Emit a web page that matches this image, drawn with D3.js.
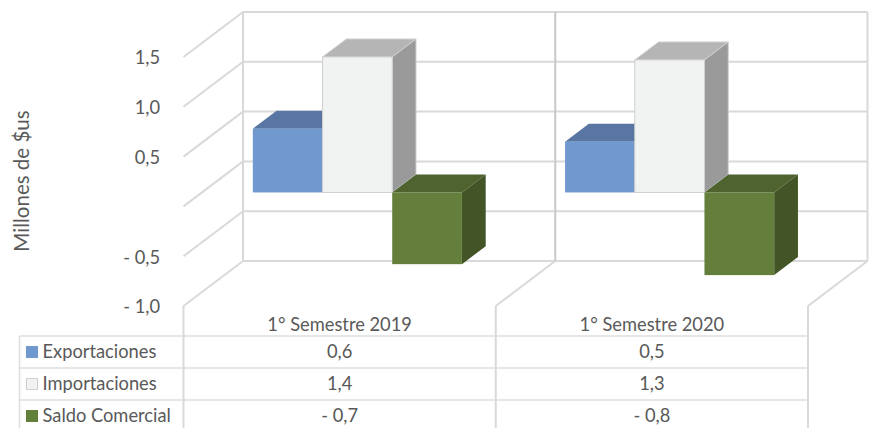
<!DOCTYPE html>
<html>
<head>
<meta charset="utf-8">
<script src="https://cdn.jsdelivr.net/npm/d3@7"></script>
<style>
  html, body { margin: 0; padding: 0; background: #fff; }
  svg { display: block; }
  text { font-family: Lato, "Open Sans", sans-serif; fill: #595959; }
</style>
</head>
<body>
<div id="chart"></div>
<script>
const categories = ['1° Semestre 2019', '1° Semestre 2020'];
const seriesNames = ['Exportaciones', 'Importaciones', 'Saldo Comercial'];
const exportaciones = [0.64, 0.51];
const importaciones = [1.36, 1.33];
const saldoComercial = [-0.72, -0.83];
const tickValues = [1.5, 1, 0.5, -0.5, -1];
const gridValues = [1.5, 1, 0.5, 0, -0.5, -1];

const seriesValues = [exportaciones, importaciones, saldoComercial];
const seriesColors = [
    { front: '#7198cf', top: '#5876a1', side: '#4f6b92', stroke: 'none' },
    { front: '#f1f3f3', top: '#b5b5b5', side: '#9a9a9a', stroke: '#d0d0d0' },
    { front: '#637f3b', top: '#4f632f', side: '#435427', stroke: 'none' }
];

const width = 873, height = 428;
const fontSize = 18.3;
const svg = d3.select('#chart').append('svg').attr('width', width).attr('height', height);

const x = d3.scaleBand().domain(categories).range([183.5, 808]);
const xSeries = d3.scaleBand().domain(seriesNames).range([-0.7, x.bandwidth() - 0.7]).paddingInner(0).paddingOuter(0.74);
const y = d3.scaleLinear().domain([-1, 1.5]).range([306, 57]);

// fake 3d: z goes from front of floor (0) to back wall (1)
const depthX = 59.5, depthY = 45;
const px = (xVal, z) => xVal + z * depthX;
const py = (yVal, z) => yVal - z * depthY;
const barZ = 0.31, barDepth = 0.4;

const lineColor = '#d9d9d9';
function line(g, x1, y1, x2, y2, color, w) {
    g.append('line').attr('x1', x1).attr('y1', y1).attr('x2', x2).attr('y2', y2)
        .attr('stroke', color || lineColor).attr('stroke-width', w || 2);
}

const left = x.range()[0], right = x.range()[1];
const walls = [left, left + x.step(), right];

// back wall and side grid
const grid = svg.append('g');
gridValues.forEach(v => {
    line(grid, px(left, 1), py(y(v), 1), px(right, 1), py(y(v), 1));
    line(grid, px(left, 0), py(y(v), 0), px(left, 1), py(y(v), 1));
});
walls.forEach((w, i) => {
    line(grid, px(w, 1), py(y(1.5), 1), px(w, 1), py(y(-1), 1), i == 1 ? '#c8c8c8' : lineColor);
    if (i > 0) line(grid, px(w, 0), py(y(-1), 0), px(w, 1), py(y(-1), 1));
});

// bars
const bars = svg.append('g');
categories.forEach((cat, c) => {
    seriesNames.forEach((name, s) => {
        const v = seriesValues[s][c];
        const col = seriesColors[s];
        const x0 = px(x(cat) + xSeries(name), barZ);
        const x1 = x0 + xSeries.bandwidth();
        const yBase = py(y(0), barZ);
        const yVal = py(y(v), barZ);
        const yTop = Math.min(yBase, yVal), yBot = Math.max(yBase, yVal);
        const dx = barDepth * depthX, dy = barDepth * depthY;

        bars.append('polygon')
            .attr('points', [[x0, yTop], [x0 + dx, yTop - dy], [x1 + dx, yTop - dy], [x1, yTop]].join(' '))
            .attr('fill', col.top).attr('stroke', col.stroke);
        bars.append('polygon')
            .attr('points', [[x1, yTop], [x1 + dx, yTop - dy], [x1 + dx, yBot - dy], [x1, yBot]].join(' '))
            .attr('fill', col.side).attr('stroke', col.stroke);
        bars.append('rect')
            .attr('x', x0).attr('y', yTop).attr('width', x1 - x0).attr('height', yBot - yTop)
            .attr('fill', col.front).attr('stroke', col.stroke);
    });
});

// value axis
const fmt = v => (v < 0 ? '- ' : '') + d3.format('.1f')(Math.abs(v)).replace('.', ',');
const axis = svg.append('g')
    .attr('transform', 'translate(167,1)')
    .call(d3.axisLeft(y).tickValues(tickValues).tickFormat(fmt).tickSize(0).tickPadding(7));
axis.select('.domain').remove();
axis.selectAll('text').attr('font-size', fontSize).style('font-family', 'Lato, "Open Sans", sans-serif').style('fill', '#595959');

svg.append('text')
    .attr('transform', 'translate(29,181) rotate(-90)')
    .attr('text-anchor', 'middle')
    .attr('font-size', 20.5)
    .text('Millones de $us');

// data table
const tableTop = 336, rowH = 32, tableLeft = 19.5;
const table = svg.append('g');
seriesNames.forEach((name, s) => {
    const rowY = tableTop + s * rowH;
    line(table, tableLeft, rowY, right, rowY, '#dedede', 1.5);
    table.append('rect')
        .attr('x', 26.5).attr('y', rowY + 10.5).attr('width', 11).attr('height', 11)
        .attr('fill', seriesColors[s].front)
        .attr('stroke', seriesColors[s].stroke == 'none' ? seriesColors[s].front : seriesColors[s].stroke);
    table.append('text')
        .attr('x', 42.5).attr('y', rowY + 16).attr('dy', '0.35em')
        .attr('font-size', fontSize)
        .text(name);
    categories.forEach((cat, c) => {
        table.append('text')
            .attr('x', x(cat) + x.bandwidth() / 2).attr('y', rowY + 16).attr('dy', '0.35em')
            .attr('text-anchor', 'middle')
            .attr('font-size', fontSize)
            .text(fmt(seriesValues[s][c]));
    });
});
line(table, tableLeft, tableTop, tableLeft, height, '#dedede', 1.5);
walls.forEach(w => line(table, w, 306, w, height));
categories.forEach(cat => {
    table.append('text')
        .attr('x', x(cat) + x.bandwidth() / 2).attr('y', 325).attr('dy', '0.35em')
        .attr('text-anchor', 'middle')
        .attr('font-size', fontSize)
        .text(cat);
});
</script>
</body>
</html>
